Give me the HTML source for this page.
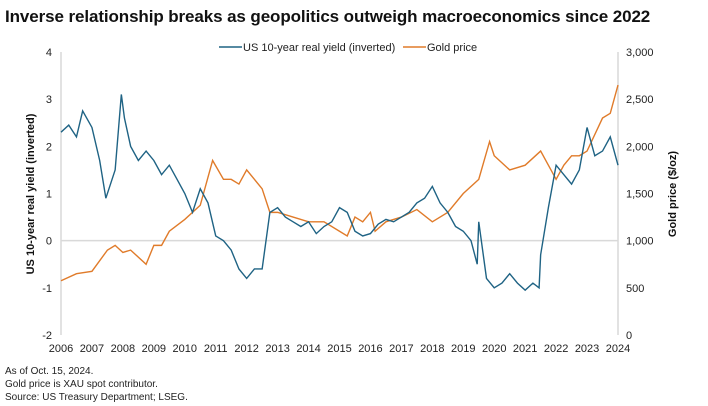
<!DOCTYPE html>
<html><head><meta charset="utf-8"><style>
body{margin:0;background:#fff;font-family:"Liberation Sans",sans-serif;}
#wrap{position:relative;width:708px;height:406px;overflow:hidden;}
.t{position:absolute;white-space:nowrap;color:#222;}
</style></head><body>
<div id="wrap">
<div class="t" style="left:5px;top:7px;font-size:17px;font-weight:bold;color:#111;letter-spacing:-0.1px;">Inverse relationship breaks as geopolitics outweigh macroeconomics since 2022</div>
<svg id="svg" width="708" height="406" style="position:absolute;left:0;top:0"></svg>
<div class="t" style="left:5px;top:366px;font-size:10px;">As of Oct. 15, 2024.</div>
<div class="t" style="left:5px;top:379px;font-size:10px;">Gold price is XAU spot contributor.</div>
<div class="t" style="left:5px;top:392px;font-size:10px;">Source: US Treasury Department; LSEG.</div>
</div>
<script>
const years=[2006,2007,2008,2009,2010,2011,2012,2013,2014,2015,2016,2017,2018,2019,2020,2021,2022,2023,2024];
const leftTicks=[4,3,2,1,0,-1,-2];
const rightTicks=[3000,2500,2000,1500,1000,500,0];
const rightTickLabels=["3,000","2,500","2,000","1,500","1,000","500","0"];
const yieldDates=[2006,2006.25,2006.5,2006.7,2007,2007.25,2007.45,2007.75,2007.95,2008.05,2008.25,2008.5,2008.75,2009,2009.25,2009.5,2009.75,2010,2010.25,2010.5,2010.75,2011,2011.25,2011.5,2011.75,2012,2012.25,2012.5,2012.75,2013,2013.25,2013.5,2013.75,2014,2014.25,2014.5,2014.75,2015,2015.25,2015.5,2015.75,2016,2016.25,2016.5,2016.75,2017,2017.25,2017.5,2017.75,2018,2018.25,2018.5,2018.75,2019,2019.25,2019.45,2019.5,2019.75,2020,2020.25,2020.5,2020.75,2021,2021.25,2021.45,2021.5,2021.75,2022,2022.25,2022.5,2022.75,2023,2023.25,2023.5,2023.75,2024];
const yieldValues=[2.3,2.45,2.2,2.75,2.4,1.7,0.9,1.5,3.1,2.6,2.0,1.7,1.9,1.7,1.4,1.6,1.3,1.0,0.6,1.1,0.8,0.1,0.0,-0.2,-0.6,-0.8,-0.6,-0.6,0.6,0.7,0.5,0.4,0.3,0.4,0.15,0.3,0.4,0.7,0.6,0.2,0.1,0.15,0.35,0.45,0.4,0.5,0.6,0.8,0.9,1.15,0.8,0.6,0.3,0.2,0.0,-0.5,0.4,-0.8,-1.0,-0.9,-0.7,-0.9,-1.05,-0.9,-1.0,-0.3,0.7,1.6,1.4,1.2,1.5,2.4,1.8,1.9,2.2,1.6];
const goldDates=[2006,2006.5,2007,2007.5,2007.75,2008,2008.25,2008.75,2009,2009.25,2009.5,2010,2010.5,2010.9,2011.25,2011.5,2011.75,2012,2012.25,2012.5,2012.75,2013,2013.5,2014,2014.5,2015,2015.25,2015.5,2015.75,2016,2016.15,2016.5,2017,2017.5,2018,2018.5,2019,2019.5,2019.85,2020,2020.5,2021,2021.5,2021.75,2022,2022.25,2022.5,2022.75,2023,2023.5,2023.75,2024];
const goldValues=[575,650,675,900,950,875,900,750,950,950,1100,1225,1375,1850,1650,1650,1600,1750,1650,1550,1300,1300,1250,1200,1200,1100,1050,1250,1200,1300,1100,1200,1250,1330,1200,1300,1500,1650,2050,1900,1750,1800,1950,1800,1650,1800,1900,1900,1950,2300,2350,2650];

const NS="http://www.w3.org/2000/svg",svg=document.getElementById('svg');
const X0=61,X1=618,YT=52,YB=335;
const x=v=>X0+(v-2006)/(2024-2006)*(X1-X0);
const yL=v=>YB-(v+2)/6*(YB-YT);
const yR=v=>YB-v/3000*(YB-YT);
function mk(tag,attrs,name,text){const e=document.createElementNS(NS,tag);for(const k in attrs)e.setAttribute(k,attrs[k]);


if(text!==undefined)e.textContent=text;svg.appendChild(e);return e;}
mk('line',{x1:X0,x2:X0,y1:YT,y2:YB,stroke:'#d9d9d9','stroke-width':1.5},'left-axis-line');
mk('line',{x1:X1,x2:X1,y1:YT,y2:YB,stroke:'#d9d9d9','stroke-width':1.5},'right-axis-line');
mk('line',{x1:X0,x2:X1,y1:yL(0),y2:yL(0),stroke:'#d9d9d9','stroke-width':1.5},'zero-gridline');
leftTicks.forEach(t=>mk('text',{x:52,y:yL(t)+4,'text-anchor':'end','font-size':11,fill:'#222'},'left-tick-label',String(t)));
rightTicks.forEach((t,i)=>mk('text',{x:626,y:yR(t)+4,'font-size':11,fill:'#222'},'right-tick-label',rightTickLabels[i]));
years.forEach(t=>mk('text',{x:x(t),y:352,'text-anchor':'middle','font-size':11,fill:'#222'},'x-tick-label',String(t)));
mk('text',{transform:'translate(34,194) rotate(-90)','text-anchor':'middle','font-size':11,'font-weight':'bold',fill:'#111'},'left-axis-title','US 10-year real yield (inverted)');
mk('text',{transform:'translate(676,194) rotate(-90)','text-anchor':'middle','font-size':11,'font-weight':'bold',fill:'#111'},'right-axis-title','Gold price ($/oz)');
mk('polyline',{points:goldDates.map((d,i)=>x(d)+','+yR(goldValues[i])).join(' '),fill:'none',stroke:'#e07b2a','stroke-width':1.4},'gold-price-line');
mk('polyline',{points:yieldDates.map((d,i)=>x(d)+','+yL(yieldValues[i])).join(' '),fill:'none',stroke:'#1f6384','stroke-width':1.4},'real-yield-line');
mk('line',{x1:219,x2:242,y1:47,y2:47,stroke:'#1f6384','stroke-width':1.5},'legend-yield-swatch');
mk('text',{x:243,y:51,'font-size':11,fill:'#222'},'legend-yield-label','US 10-year real yield (inverted)');
mk('line',{x1:403,x2:426,y1:47,y2:47,stroke:'#e07b2a','stroke-width':1.5},'legend-gold-swatch');
mk('text',{x:427,y:51,'font-size':11,fill:'#222'},'legend-gold-label','Gold price');
</script>
</body></html>
